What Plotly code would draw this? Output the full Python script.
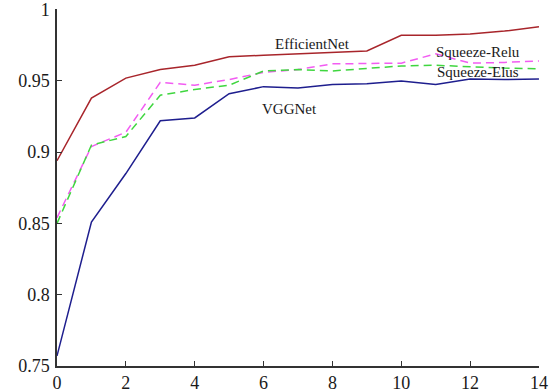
import plotly.graph_objects as go

epochs = list(range(15))
efficientnet = [0.894, 0.938, 0.952, 0.958, 0.961, 0.967, 0.968, 0.969, 0.970, 0.971, 0.982, 0.982, 0.983, 0.985, 0.988]
squeeze_relu = [0.854, 0.904, 0.914, 0.949, 0.947, 0.951, 0.956, 0.958, 0.962, 0.962, 0.9625, 0.969, 0.9625, 0.963, 0.964]
squeeze_elus = [0.850, 0.905, 0.911, 0.940, 0.944, 0.947, 0.957, 0.958, 0.957, 0.959, 0.9605, 0.961, 0.960, 0.959, 0.9586]
vggnet = [0.757, 0.851, 0.885, 0.922, 0.924, 0.941, 0.946, 0.945, 0.9475, 0.948, 0.950, 0.9475, 0.9513, 0.951, 0.9513]

x_ticks = [0, 2, 4, 6, 8, 10, 12, 14]
y_ticks = [0.75, 0.8, 0.85, 0.9, 0.95, 1.0]
y_tick_text = ["0.75", "0.8", "0.85", "0.9", "0.95", "1"]

font_serif = "Liberation Serif, Times New Roman, serif"

fig = go.Figure()
fig.add_trace(go.Scatter(x=epochs, y=efficientnet, mode="lines", name="EfficientNet",
                         line=dict(color="#A8252B", width=1.5)))
fig.add_trace(go.Scatter(x=epochs, y=vggnet, mode="lines", name="VGGNet",
                         line=dict(color="#1E1E8E", width=1.5)))
fig.add_trace(go.Scatter(x=epochs, y=squeeze_relu, mode="lines", name="Squeeze-Relu",
                         line=dict(color="#F25CF2", width=1.5, dash="8px,5px")))
fig.add_trace(go.Scatter(x=epochs, y=squeeze_elus, mode="lines", name="Squeeze-Elus",
                         line=dict(color="#3FD63F", width=1.5, dash="8px,5px")))

labels = [
    ("EfficientNet", 7.42, 0.9757),
    ("Squeeze-Relu", 12.23, 0.9706),
    ("Squeeze-Elus", 12.23, 0.9562),
    ("VGGNet", 6.74, 0.9300),
]
for text, lx, ly in labels:
    fig.add_annotation(x=lx, y=ly, text=text, showarrow=False,
                       font=dict(family=font_serif, size=15, color="#1a1a1a"))

fig.update_layout(
    width=557, height=392,
    margin=dict(l=57, r=18, t=9, b=26, autoexpand=False),
    paper_bgcolor="white", plot_bgcolor="white",
    showlegend=False,
    font=dict(family=font_serif, size=17, color="#1a1a1a"),
)
fig.update_xaxes(range=[0, 14.001], tickvals=x_ticks, ticks="inside", ticklen=5,
                 tickcolor="#333333", showline=True, linecolor="#333333", linewidth=1.5,
                 showgrid=False, zeroline=False, automargin=False,
                 tickfont=dict(family=font_serif, size=18, color="#1a1a1a"))
fig.update_yaxes(range=[0.7499, 1.0005], tickvals=y_ticks, ticktext=y_tick_text, ticks="inside",
                 ticklen=5, tickcolor="#333333", showline=True, linecolor="#333333",
                 linewidth=1.5, showgrid=False, zeroline=False, automargin=False,
                 ticklabelstandoff=2,
                 tickfont=dict(family=font_serif, size=18, color="#1a1a1a"))

fig.write_html("out.html", config={"displayModeBar": False},
               post_script="document.body.style.margin='0';document.body.style.overflow='hidden';")
